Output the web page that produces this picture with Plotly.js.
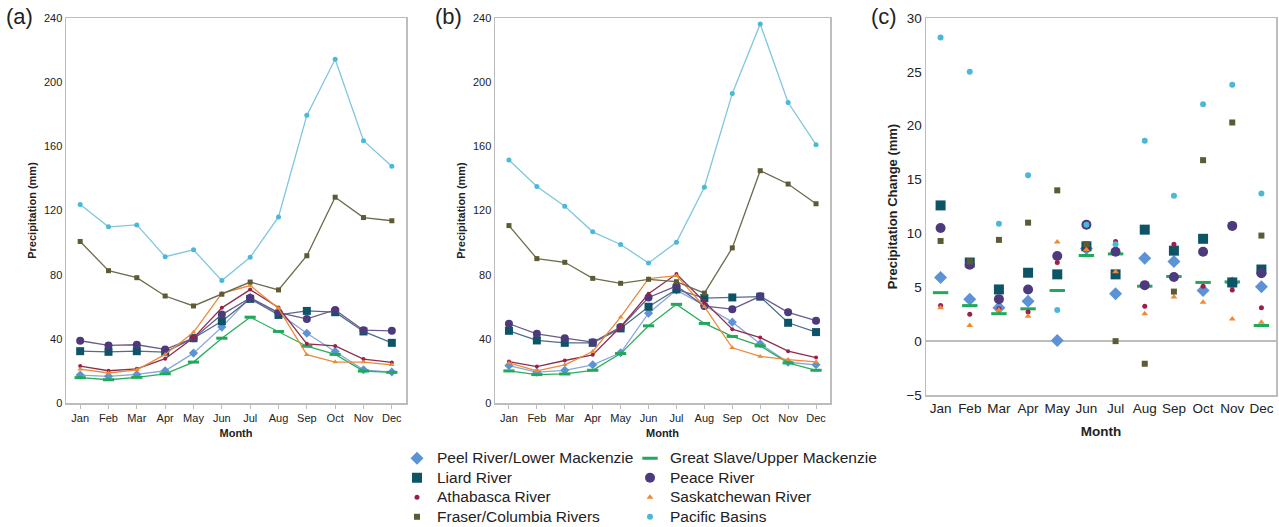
<!DOCTYPE html>
<html>
<head>
<meta charset="utf-8">
<script src="https://cdn.plot.ly/plotly-3.0.1.min.js"></script>
<style>html,body{margin:0;padding:0;background:#fff;}#chart{width:1279px;height:527px;}</style>
</head>
<body>
<div id="chart"></div>
<script>
const months = ['Jan','Feb','Mar','Apr','May','Jun','Jul','Aug','Sep','Oct','Nov','Dec'];
const seriesNames = ['Peel River/Lower Mackenzie','Great Slave/Upper Mackenzie','Liard River','Peace River',
  'Athabasca River','Saskatchewan River','Fraser/Columbia Rivers','Pacific Basins'];

// Panel (a) precipitation (mm)
const peelA   = [17.4,16.6,17.8,20.1,31.1,47.3,65.9,56.0,43.5,32.1,20.7,19.3];
const slaveA  = [15.8,14.5,16.0,18.2,25.5,40.4,53.5,44.6,35.4,30.3,19.9,19.1];
const liardA  = [32.3,31.9,32.3,31.7,40.4,51.0,64.9,54.9,57.4,56.6,44.6,37.5];
const peaceA  = [38.8,35.9,36.3,33.4,40.4,55.1,65.5,56.4,52.4,58.0,45.4,45.0];
const athaA   = [23.0,20.1,21.3,27.6,40.6,59.3,70.7,59.5,36.9,35.6,27.4,25.3];
const saskA   = [21.1,18.7,20.7,30.3,44.1,68.4,73.2,59.0,30.1,25.5,25.5,23.8];
const fraserA = [100.7,82.5,78.1,66.7,60.5,67.8,75.4,70.5,91.8,128.3,115.6,113.6];
const pacificA= [123.7,109.8,111.0,91.2,95.5,76.3,90.8,116.0,179.3,214.3,163.5,147.6];

// Panel (b) precipitation (mm)
const peelB   = [23.3,19.2,20.4,23.8,31.3,56.0,70.4,60.8,50.4,36.9,25.4,23.8];
const slaveB  = [20.0,17.7,18.1,20.4,30.8,48.1,61.5,49.6,41.5,35.6,25.0,20.4];
const liardB  = [45.0,39.0,37.5,37.5,46.5,60.0,70.8,65.4,65.8,66.3,50.0,44.2];
const peaceB  = [49.4,43.1,40.4,37.9,47.3,65.8,72.9,60.4,58.5,66.5,56.5,51.3];
const athaB   = [25.8,22.7,26.5,30.0,47.5,68.1,80.4,63.3,46.0,40.8,32.3,28.3];
const saskB   = [25.0,20.0,23.8,32.1,53.5,77.5,79.4,60.0,34.4,29.0,27.1,25.6];
const fraserB = [110.6,90.0,87.7,77.7,74.6,77.1,75.6,68.5,96.7,144.8,136.5,124.2];
const pacificB= [151.5,135.0,122.7,106.7,98.8,87.3,100.2,134.5,193.0,236.3,187.3,161.0];

// Panel (c) precipitation change (mm)
const peelC   = [5.9,3.9,3.1,3.7,0.05,8.6,4.4,7.7,7.4,4.7,5.4,5.05];
const slaveC  = [4.5,3.3,2.55,3.0,4.7,7.95,8.1,5.1,6.0,5.45,5.5,1.45];
const liardC  = [12.6,7.3,4.8,6.35,6.2,8.8,6.2,10.35,8.4,9.5,5.45,6.65];
const peaceC  = [10.5,7.1,3.9,4.8,7.9,10.8,8.3,5.2,5.95,8.3,10.7,6.3];
const athaC   = [3.3,2.5,3.0,2.7,7.3,8.6,9.25,3.25,9.0,5.1,4.75,3.1];
const saskC   = [3.1,1.45,2.9,2.3,9.2,8.5,6.45,2.55,4.1,3.6,2.05,1.75];
const fraserC = [9.3,7.4,9.4,11.0,14.0,9.0,0.0,-2.1,4.6,16.8,20.3,9.8];
const pacificC= [28.2,25.0,10.9,15.4,2.9,10.8,9.0,18.6,13.5,22.0,23.8,13.7];

const dataA = [peelA,slaveA,liardA,peaceA,athaA,saskA,fraserA,pacificA];
const dataB = [peelB,slaveB,liardB,peaceB,athaB,saskB,fraserB,pacificB];
const dataC = [peelC,slaveC,liardC,peaceC,athaC,saskC,fraserC,pacificC];

// styles
const markerColors = ['#5b93d6','#22a85a','#0d5566','#4d3a7c','#9e1f45','#ee8a30','#5d5b36','#4bb8d8'];
const lineColors   = ['#8aa6dc','#2aae5e','#4f6e88','#6a5a8e','#8e2d4c','#ea8a3a','#6e6a4c','#7ec7de'];
const symbols      = ['diamond','line-ew','square','circle','circle','triangle-up','square','circle'];
const sizesLine    = [7,8,8,8,4,5,5,5];
const sizesDot     = [10,11,10,10,5,6,6,6];
const legendOf     = ['legend','legend2','legend','legend2','legend','legend2','legend','legend2'];

function mk(i, size) {
  const m = {symbol: symbols[i], size: size, color: markerColors[i]};
  if (symbols[i] === 'line-ew') m.line = {color: markerColors[i], width: 3};
  else m.line = {width: 0};
  return m;
}

const traces = [];
for (let i = 0; i < 8; i++) {
  traces.push({x: months, y: dataA[i], type: 'scatter', mode: 'lines+markers', xaxis: 'x', yaxis: 'y',
    line: {color: lineColors[i], width: 1.3}, marker: mk(i, sizesLine[i]), showlegend: false, name: seriesNames[i]});
}
for (let i = 0; i < 8; i++) {
  traces.push({x: months, y: dataB[i], type: 'scatter', mode: 'lines+markers', xaxis: 'x2', yaxis: 'y2',
    line: {color: lineColors[i], width: 1.3}, marker: mk(i, sizesLine[i]), showlegend: false, name: seriesNames[i]});
}
for (let i = 0; i < 8; i++) {
  traces.push({x: months, y: dataC[i], type: 'scatter', mode: 'markers', xaxis: 'x3', yaxis: 'y3',
    marker: mk(i, sizesDot[i]), showlegend: true, legend: legendOf[i],
    name: '<span style="font-size:15.5px">' + seriesNames[i] + '</span>'});
}

const W = 1279, H = 527;
const FONT = 'Arial, "Liberation Sans", sans-serif';
const gray = '#bdbdbd';

function xax(d, fs, tfs, sd) {
  return {domain: d, type: 'category', range: [-0.5, 11.5], showline: true, mirror: true, linecolor: gray, linewidth: 1.5,
    ticks: 'outside', ticklen: 4, tickcolor: gray, showgrid: false, zeroline: false,
    tickfont: {size: fs, color: '#222', family: FONT},
    title: {text: '<b>Month</b>', font: {size: tfs, color: '#222', family: FONT}, standoff: sd}};
}
function yax(d, r, dt, fs, title, tfs, sd) {
  return {domain: d, range: r, dtick: dt, showline: true, mirror: true, linecolor: gray, linewidth: 1.5,
    ticks: '', showgrid: false, zeroline: false, tickfont: {size: fs, color: '#222', family: FONT},
    title: {text: '<b>' + title + '</b>', font: {size: tfs, color: '#222', family: FONT}, standoff: sd}};
}

const yAB = [1 - 403/H, 1 - 18/H];
const yC  = [1 - 395/H, 1 - 18/H];

const legFont = {size: 12.7, family: FONT, color: '#222'};
const layout = {
  width: W, height: H, margin: {l: 0, r: 0, t: 0, b: 0, autoexpand: false},
  paper_bgcolor: '#fff', plot_bgcolor: '#fff',
  font: {family: FONT, color: '#222'},
  xaxis:  xax([66/W, 406/W], 11, 11, 6),
  yaxis:  yax(yAB, [0, 240], 40, 11, 'Precipitation (mm)', 11, 5),
  xaxis2: Object.assign(xax([495/W, 830/W], 11, 11, 6), {anchor: 'y2'}),
  yaxis2: Object.assign(yax(yAB, [0, 240], 40, 11, 'Precipitation (mm)', 11, 5), {anchor: 'x2'}),
  xaxis3: Object.assign(xax([926/W, 1276/W], 13.5, 13.5, 12), {anchor: 'y3', ticks: ''}),
  yaxis3: Object.assign(yax(yC, [-5, 30], 5, 13.5, 'Precipitation Change (mm)', 13, 6),
    {anchor: 'x3', zeroline: true, zerolinecolor: gray, zerolinewidth: 1.5}),
  legend:  {x: 397/W, xanchor: 'left', y: 1 - 443.5/H, yanchor: 'top', font: legFont,
    bgcolor: 'rgba(0,0,0,0)', tracegroupgap: 0, itemwidth: 30},
  legend2: {x: 630/W, xanchor: 'left', y: 1 - 443.5/H, yanchor: 'top', font: legFont,
    bgcolor: 'rgba(0,0,0,0)', tracegroupgap: 0, itemwidth: 30},
  annotations: [
    {text: '(a)', xref: 'paper', yref: 'paper', x: 4/W, y: 1 - 17/H, xanchor: 'left', yanchor: 'middle', showarrow: false, font: {size: 22, family: FONT, color: '#222'}},
    {text: '(b)', xref: 'paper', yref: 'paper', x: 433/W, y: 1 - 17/H, xanchor: 'left', yanchor: 'middle', showarrow: false, font: {size: 22, family: FONT, color: '#222'}},
    {text: '(c)', xref: 'paper', yref: 'paper', x: 869/W, y: 1 - 17/H, xanchor: 'left', yanchor: 'middle', showarrow: false, font: {size: 22, family: FONT, color: '#222'}}
  ]
};

Plotly.newPlot('chart', traces, layout, {staticPlot: true, displayModeBar: false});
</script>
</body>
</html>
